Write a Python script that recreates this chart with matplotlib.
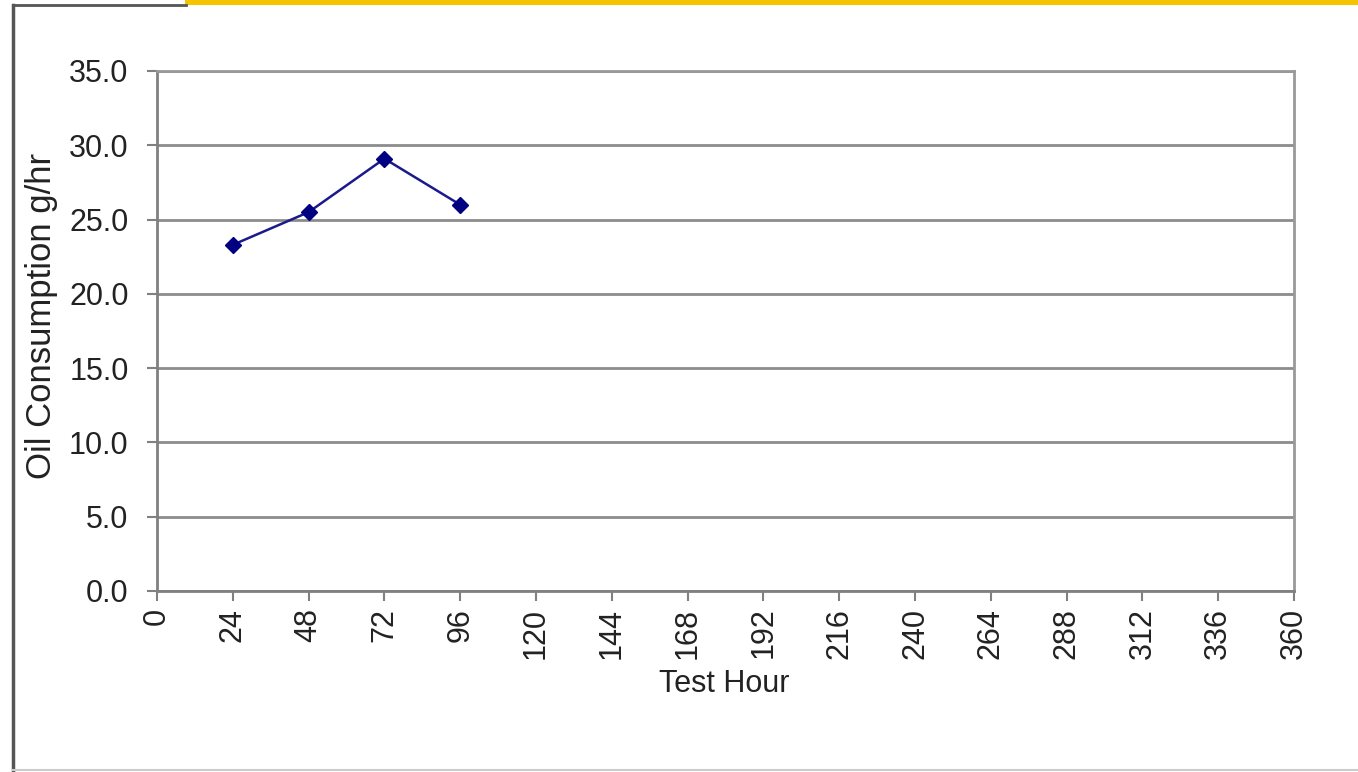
import matplotlib
matplotlib.use("Agg")
import matplotlib.pyplot as plt
from matplotlib.lines import Line2D
from matplotlib.patches import Rectangle

test_hours = [24, 48, 72, 96]
oil_consumption = [23.3, 25.5, 29.1, 26.0]
x_ticks = list(range(0, 361, 24))
y_ticks = [0, 5, 10, 15, 20, 25, 30, 35]

plt.rcParams['font.family'] = ['Liberation Sans', 'DejaVu Sans']

W, H = 1358, 772
fig = plt.figure(figsize=(W / 100, H / 100), dpi=100)
ax = fig.add_axes([157 / W, 1 - 591 / H, (1294 - 157) / W, (591 - 71) / H])

ax.plot(test_hours, oil_consumption, color='#1a1a8c', lw=1.8, marker='D',
        markersize=8, markerfacecolor='#000080', markeredgecolor='#000080', zorder=3)

ax.set_xlim(0, 360)
ax.set_ylim(0, 35)
ax.set_xticks(x_ticks)
ax.set_xticklabels([str(v) for v in x_ticks], rotation=90, fontsize=22, color='#222222')
ax.set_yticks(y_ticks)
ax.set_yticklabels([f"{v:.1f}" for v in y_ticks], fontsize=22, color='#222222')
ax.yaxis.grid(True, color='#8c8c8c', lw=2)
ax.set_axisbelow(True)
for s in ['left', 'bottom']:
    ax.spines[s].set_color('#808080')
    ax.spines[s].set_linewidth(2)
for s in ['top', 'right']:
    ax.spines[s].set_color('#999999')
    ax.spines[s].set_linewidth(2)
ax.tick_params(axis='both', color='#808080', width=1.5, length=7)
ax.tick_params(axis='y', pad=13.5)
ax.tick_params(axis='x', pad=5)
ax.set_xlabel('Test Hour', fontsize=22, color='#222222')
ax.xaxis.set_label_coords(0.499, (591 - 669) / 520)
ax.set_ylabel('Oil Consumption g/hr', fontsize=25, color='#222222')
ax.yaxis.set_label_coords((58 - 157) / 1137, (591 - 316) / 520)

# outer frame
fig.add_artist(Line2D([13 / W, 13 / W], [0, 1 - 5 / H], transform=fig.transFigure,
                      color='#555555', lw=2.5))
fig.add_artist(Line2D([13 / W, 186 / W], [1 - 5 / H, 1 - 5 / H], transform=fig.transFigure,
                      color='#555555', lw=2))
fig.add_artist(Rectangle((185 / W, 1 - 5 / H), 1 - 185 / W, 5 / H, transform=fig.transFigure,
                         color='#f5c400', lw=0))
fig.add_artist(Line2D([13 / W, 1], [1 - 770 / H, 1 - 770 / H], transform=fig.transFigure,
                      color='#cccccc', lw=1.5))

fig.savefig('out.png', dpi=100)
